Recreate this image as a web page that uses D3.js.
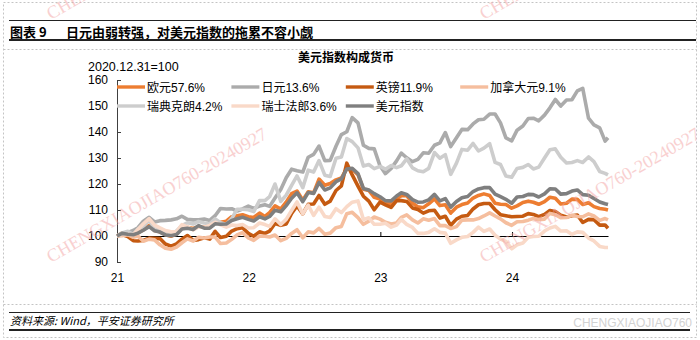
<!DOCTYPE html>
<html><head><meta charset="utf-8">
<script src="https://cdn.jsdelivr.net/npm/d3@7"></script>
<style>
body{margin:0;background:#fff;}
svg text{font-family:"Liberation Sans",Arial,"Noto Sans CJK SC",sans-serif;}
</style></head><body>
<svg id="chart" width="700" height="340"></svg>
<script>
// Half-monthly observations, index 2020-12-31 = 100
const dates = ["2021-01-01",
"2021-01-15","2021-01-31","2021-02-15","2021-02-28","2021-03-15","2021-03-31","2021-04-15","2021-04-30","2021-05-15","2021-05-31","2021-06-15","2021-06-30","2021-07-15","2021-07-31","2021-08-15","2021-08-31","2021-09-15","2021-09-30","2021-10-15","2021-10-31","2021-11-15","2021-11-30","2021-12-15","2021-12-31",
"2022-01-15","2022-01-31","2022-02-15","2022-02-28","2022-03-15","2022-03-31","2022-04-15","2022-04-30","2022-05-15","2022-05-31","2022-06-15","2022-06-30","2022-07-15","2022-07-31","2022-08-15","2022-08-31","2022-09-15","2022-09-30","2022-10-15","2022-10-31","2022-11-15","2022-11-30","2022-12-15","2022-12-31",
"2023-01-15","2023-01-31","2023-02-15","2023-02-28","2023-03-15","2023-03-31","2023-04-15","2023-04-30","2023-05-15","2023-05-31","2023-06-15","2023-06-30","2023-07-15","2023-07-31","2023-08-15","2023-08-31","2023-09-15","2023-09-30","2023-10-15","2023-10-31","2023-11-15","2023-11-30","2023-12-15","2023-12-31",
"2024-01-15","2024-01-31","2024-02-15","2024-02-29","2024-03-15","2024-03-31","2024-04-15","2024-04-30","2024-05-15","2024-05-31","2024-06-15","2024-06-30","2024-07-15","2024-07-31","2024-08-15","2024-08-31","2024-09-15","2024-09-23"];

const eur = [100,
101.1,100.7,100.8,101.2,102.4,104.1,102.1,101.6,100.5,99.9,100.8,103.0,103.4,102.9,103.6,103.4,103.4,105.5,105.3,105.7,107.4,107.8,108.2,107.4,
107.1,108.8,107.5,109.0,111.6,110.4,113.0,116.3,117.3,113.8,117.0,116.6,121.9,119.5,120.2,121.6,122.3,126.0,125.7,123.6,118.0,117.5,114.9,114.2,
112.8,112.5,114.3,115.5,115.5,112.7,111.2,110.9,112.4,114.3,111.7,112.0,108.8,111.1,112.1,112.7,114.6,115.6,116.2,115.6,112.6,112.2,112.1,110.7,
111.6,112.9,113.4,113.0,112.2,113.2,114.9,114.5,112.3,112.6,114.2,114.1,112.1,112.8,111.3,110.6,110.3,110.0];

const jpy = [100,
100.5,101.4,102.1,103.2,105.7,107.2,105.4,105.9,106.0,106.2,106.6,107.6,106.4,106.2,106.2,106.5,106.0,107.8,110.6,110.4,110.5,109.6,110.4,111.5,
110.6,111.5,112.0,111.4,114.6,117.9,122.4,125.7,125.1,124.6,130.3,131.4,134.6,129.0,129.1,134.5,139.0,140.1,145.5,143.5,134.9,133.7,133.5,127.0,
124.0,126.0,128.9,131.9,130.1,128.6,129.5,132.0,131.8,134.9,135.8,139.8,134.4,137.8,141.0,140.9,143.1,144.7,144.9,146.9,146.9,143.5,137.7,136.6,
140.7,142.3,145.2,145.3,144.3,146.5,149.3,152.5,150.0,152.3,152.4,155.8,156.8,145.3,142.7,141.6,136.5,137.8];

const gbp = [100,
100.6,99.8,98.2,98.1,98.3,99.2,99.1,99.0,96.9,96.1,97.0,98.8,100.2,98.3,98.6,99.3,98.8,101.8,99.4,99.9,101.9,102.8,103.2,101.0,
99.9,101.6,101.0,101.9,104.8,104.1,104.6,108.7,111.6,108.5,112.2,112.3,115.6,112.2,113.4,117.5,119.3,128.0,123.5,119.2,115.3,113.4,110.1,113.0,
112.0,111.0,113.6,113.6,113.3,110.8,110.2,108.8,109.7,109.9,106.9,107.6,104.1,106.5,107.6,107.9,110.4,112.0,112.5,112.5,110.1,108.2,107.8,107.4,
107.5,107.6,108.6,108.3,107.4,108.3,109.8,109.4,108.0,107.3,107.8,108.1,105.2,106.4,106.3,104.2,104.2,103.0];

const cad = [100,
100.1,100.5,99.5,100.0,98.0,98.8,98.5,96.6,95.3,94.9,95.7,97.4,98.9,98.1,99.5,99.2,99.6,99.6,97.1,97.3,98.7,100.4,101.3,99.3,
98.3,100.0,99.9,99.6,100.4,98.2,99.1,101.0,102.4,99.3,101.6,101.2,102.9,100.7,101.1,103.2,103.7,108.6,109.1,107.1,104.5,105.7,107.3,106.5,
105.3,104.6,105.0,107.2,108.1,106.2,105.0,106.6,106.1,106.7,104.0,104.0,102.9,103.6,106.1,106.2,106.2,106.7,107.7,108.9,107.7,106.6,105.1,104.1,
105.5,105.6,106.1,106.7,106.3,106.5,108.7,108.2,107.0,107.1,108.0,107.5,107.4,108.5,107.7,106.0,106.7,106.2];

const sek = [100,
101.2,101.8,100.6,102.6,103.6,106.2,102.6,102.8,101.8,101.0,101.9,104.0,105.1,104.6,105.6,105.0,104.7,106.6,105.1,104.4,106.7,110.3,110.3,110.1,
109.4,113.6,113.6,115.1,120.0,113.3,115.7,119.5,123.1,118.6,125.3,124.6,129.0,123.4,122.9,129.9,130.4,137.5,136.3,133.9,126.9,127.5,125.9,126.8,
125.7,127.1,126.3,127.0,129.7,126.2,125.1,124.7,126.0,132.1,129.9,131.3,123.7,128.0,133.3,133.0,135.6,132.7,133.8,135.5,128.3,127.5,123.1,122.6,
126.0,126.4,127.5,125.8,126.5,130.0,133.2,133.5,130.3,128.1,128.3,129.0,128.3,130.4,128.6,124.8,124.1,123.5];

const chf = [100,
100.6,100.7,100.5,102.5,104.7,106.7,104.2,103.1,102.1,101.6,101.6,104.4,103.5,102.3,103.5,103.4,104.1,105.3,104.3,103.4,104.2,104.0,104.4,103.1,
103.2,105.0,104.4,103.7,106.6,104.4,106.4,109.8,113.1,108.5,111.9,107.9,111.1,107.5,107.1,110.5,109.0,111.3,113.0,113.5,106.3,107.0,104.5,104.5,
104.9,103.4,104.2,106.4,104.5,103.3,101.0,101.0,101.4,102.8,101.4,101.1,97.2,98.5,99.5,99.8,101.4,103.4,101.8,102.7,100.3,98.8,97.9,95.1,
96.6,97.3,99.5,99.8,99.9,101.9,103.1,103.7,101.9,102.0,100.6,101.6,101.4,99.2,98.1,96.0,95.6,95.6];

const dxy = [100,
101.0,100.7,100.5,101.1,102.2,103.6,102.0,101.5,100.4,100.1,100.6,102.7,103.0,102.5,104.0,103.0,103.0,104.7,104.5,104.6,106.0,106.6,107.2,106.4,
105.8,107.4,106.6,107.5,109.9,109.3,111.7,114.5,116.6,113.2,116.7,116.4,120.6,117.7,118.5,120.9,122.0,125.8,126.0,124.0,118.3,117.7,116.3,115.1,
113.6,113.5,115.4,116.6,116.0,114.0,113.0,113.1,113.9,116.0,113.5,114.4,111.1,113.3,114.7,115.2,117.1,118.1,118.6,118.6,116.1,115.1,114.1,112.6,
115.0,115.2,116.0,115.9,115.0,116.2,118.2,118.1,116.1,116.3,117.3,117.7,115.9,115.7,114.4,113.1,112.4,112.1];

const seriesNames = ["欧元57.6%","日元13.6%","英镑11.9%","加拿大元9.1%","瑞典克朗4.2%","瑞士法郎3.6%","美元指数"];
const seriesValues = [eur, jpy, gbp, cad, sek, chf, dxy];
const seriesColors = ["#ED7D31","#ABABAB","#C55A11","#F5BE9E","#CDCDCD","#F9D9C8","#7F7F7F"];
const yTicks = [90,100,110,120,130,140,150,160];
const xTickDates = ["2021-01-01","2022-01-01","2023-01-01","2024-01-01"];
const xTickLabels = ["21","22","23","24"];

const svg = d3.select("#chart");
const parse = d3.timeParse("%Y-%m-%d");
const dateObjs = dates.map(parse);

const x = d3.scaleTime().domain([parse("2021-01-01"), parse("2024-09-23")]).range([117, 608]);
const y = d3.scaleLinear().domain([90, 160]).range([262, 80]);

// page frame
const frame = svg.append("g").attr("fill", "none").attr("stroke", "#c4c4c4").attr("stroke-dasharray", "2,2");
frame.append("rect").attr("x", 3.5).attr("y", 2.5).attr("width", 693).attr("height", 335);
frame.append("line").attr("x1", 3.5).attr("x2", 696.5).attr("y1", 49.5).attr("y2", 49.5);
frame.append("line").attr("x1", 3.5).attr("x2", 696.5).attr("y1", 304.5).attr("y2", 304.5);

// header
svg.append("line").attr("x1", 9).attr("x2", 696).attr("y1", 20.5).attr("y2", 20.5).attr("stroke", "#222").attr("stroke-width", 1);
svg.append("line").attr("x1", 9).attr("x2", 696).attr("y1", 40).attr("y2", 40).attr("stroke", "#222").attr("stroke-width", 2);
svg.append("text").attr("x", 10).attr("y", 36.5).attr("font-size", 13).attr("font-weight", "bold")
  .style("font-family", "'Noto Sans CJK SC',sans-serif").text("图表 9");
svg.append("text").attr("x", 66).attr("y", 36.5).attr("font-size", 13).attr("font-weight", "bold")
  .style("font-family", "'Noto Sans CJK SC',sans-serif").text("日元由弱转强，对美元指数的拖累不容小觑");

// footer
svg.append("line").attr("x1", 9).attr("x2", 690).attr("y1", 312.5).attr("y2", 312.5).attr("stroke", "#222");
svg.append("line").attr("x1", 9).attr("x2", 690).attr("y1", 330).attr("y2", 330).attr("stroke", "#222").attr("stroke-width", 2);
svg.append("text").attr("x", 10).attr("y", 325).attr("font-size", 11).attr("font-style", "italic")
  .style("font-family", "'Noto Sans CJK SC',sans-serif").text("资料来源: Wind，平安证券研究所");
svg.append("text").attr("x", 692).attr("y", 327).attr("text-anchor", "end").attr("font-size", 12)
  .attr("fill", "#d2d2d2").text("CHENGXIAOJIAO760");

// chart titles
svg.append("text").attr("x", 346).attr("y", 62).attr("text-anchor", "middle").attr("font-size", 12)
  .attr("font-weight", "bold").style("font-family", "'Noto Sans CJK SC',sans-serif").text("美元指数构成货币");
svg.append("text").attr("x", 88).attr("y", 70.5).attr("font-size", 12.5).text("2020.12.31=100");

// x axis at the 100 level, labels beneath the plot
const xAxis = d3.axisBottom(x)
  .tickValues(xTickDates.map(parse))
  .tickFormat((d, i) => xTickLabels[i])
  .tickSizeInner(-4).tickSizeOuter(0).tickPadding(37);
const gx = svg.append("g").attr("transform", `translate(0,${y(100)})`).call(xAxis);
gx.select(".domain").attr("stroke", "#000");
gx.selectAll(".tick line").attr("stroke", "#000");
gx.selectAll("text").attr("font-size", 12).attr("fill", "#000").style("font-family", "'Liberation Sans',Arial,sans-serif");

// y axis
const yAxis = d3.axisLeft(y).tickValues(yTicks).tickSizeInner(-4).tickSizeOuter(0).tickPadding(9);
const gy = svg.append("g").attr("transform", "translate(117,0)").call(yAxis);
gy.select(".domain").attr("stroke", "#404040");
gy.selectAll(".tick line").attr("stroke", "#404040");
gy.selectAll("text").attr("font-size", 12).attr("fill", "#000").style("font-family", "'Liberation Sans',Arial,sans-serif");

// series
const line = d3.line().x((d, i) => x(dateObjs[i])).y(d => y(d));
svg.append("g").selectAll("path").data(seriesValues).join("path")
  .attr("d", d => line(d))
  .attr("fill", "none")
  .attr("stroke", (d, i) => seriesColors[i])
  .attr("stroke-width", 3.6)
  .attr("stroke-linejoin", "round");

// legend
const legend = svg.append("g").selectAll("g").data(seriesNames).join("g")
  .attr("transform", (d, i) => `translate(${117 + (i % 4) * 114.4},${87 + Math.floor(i / 4) * 19})`);
legend.append("line").attr("x1", 0).attr("x2", 28).attr("y1", 0).attr("y2", 0)
  .attr("stroke", (d, i) => seriesColors[i]).attr("stroke-width", 3.4);
legend.append("text").attr("x", 30).attr("y", 4.5).attr("font-size", 12).attr("fill", "#000").text(d => d);

// watermark
const marks = [[51, 263], [484, 263], [51, 20], [484, 20]];
svg.append("g").selectAll("text").data(marks).join("text")
  .attr("transform", d => `translate(${d[0]},${d[1]}) rotate(-30)`)
  .attr("font-size", 18).attr("fill", "#f4a3a3").attr("opacity", 0.5)
  .style("font-family", "'Liberation Serif','Times New Roman',serif")
  .text("CHENGXIAOJIAO760-20240927");
</script>
</body></html>
